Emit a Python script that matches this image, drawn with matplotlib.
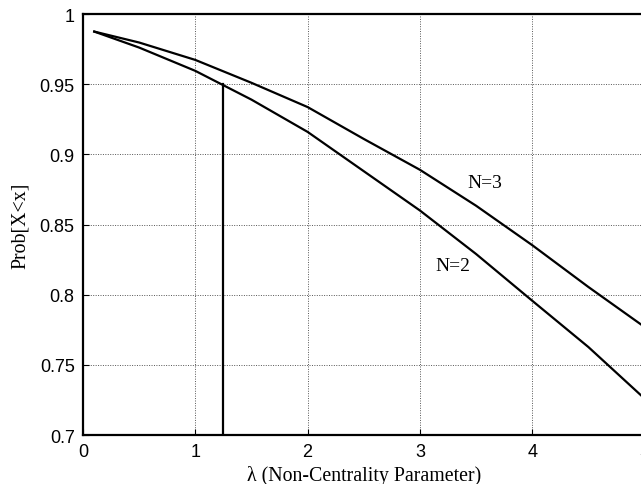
import matplotlib.pyplot as plt

# ============================================================
# DATOS
# ============================================================

lam = [0.1, 0.5, 1.0, 1.5, 2.0, 2.5, 3.0, 3.5, 4.0, 4.5, 5.0]
prob_n3 = [0.9875, 0.9797, 0.9673, 0.951, 0.9337, 0.911, 0.889, 0.8634, 0.8353, 0.8055, 0.777]
prob_n2 = [0.9875, 0.9761, 0.9595, 0.939, 0.916, 0.888, 0.860, 0.829, 0.7957, 0.7627, 0.726]

lam_umbral = 1.247
prob_umbral = 0.95

x_ticks = [0, 1, 2, 3, 4, 5]
y_ticks = [0.7, 0.75, 0.8, 0.85, 0.9, 0.95, 1.0]
y_ticklabels = ["0.7", "0.75", "0.8", "0.85", "0.9", "0.95", "1"]

# ============================================================
# GRAFICA
# ============================================================

fig = plt.figure(figsize=(6.41, 4.85), dpi=100)
ax = fig.add_axes([0.1295, 0.101, 0.876, 0.868])

ax.plot(lam, prob_n3, color="black", lw=1.6)
ax.plot(lam, prob_n2, color="black", lw=1.6)
ax.plot([lam_umbral, lam_umbral], [0.7, prob_umbral], color="black", lw=1.6)

ax.text(3.58, 0.88, "N=3", family="Liberation Serif", fontsize=14,
        ha="center", va="center")
ax.text(3.29, 0.821, "N=2", family="Liberation Serif", fontsize=14,
        ha="center", va="center")

ax.set_xlim(0, 5)
ax.set_ylim(0.7, 1.0)
ax.set_xticks(x_ticks)
ax.set_yticks(y_ticks)
ax.set_yticklabels(y_ticklabels)
ax.tick_params(direction="in", length=4, labelsize=13, pad=6)
for lbl in ax.get_xticklabels() + ax.get_yticklabels():
    lbl.set_family("Liberation Sans")

ax.grid(True, linestyle=(0, (1, 1.5)), color="#555555", lw=0.7)
for s in ax.spines.values():
    s.set_linewidth(1.6)

ax.set_xlabel("λ (Non-Centrality Parameter)", family="Liberation Serif",
              fontsize=14.3, labelpad=3)
ax.set_ylabel("Prob[X<x]", family="Liberation Serif", fontsize=14.3,
              labelpad=7)

fig.savefig("out.png", dpi=100)
